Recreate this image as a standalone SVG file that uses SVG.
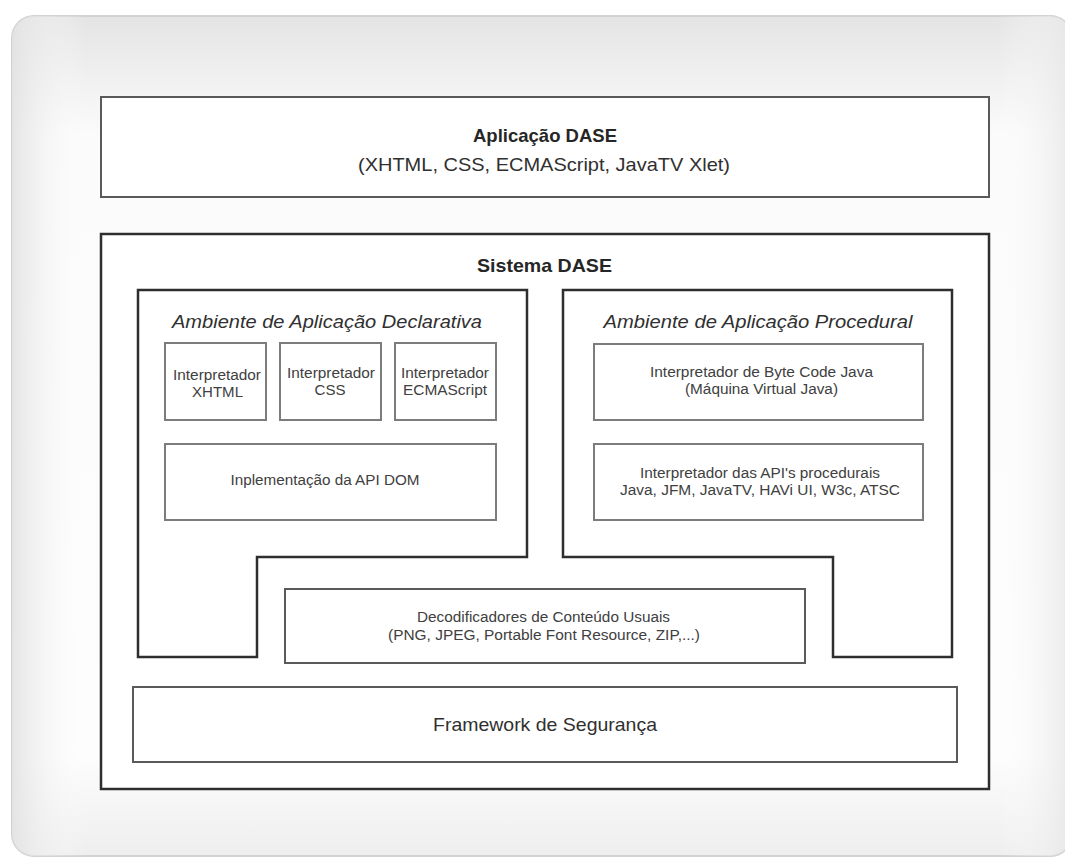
<svg xmlns="http://www.w3.org/2000/svg" width="1065" height="857" viewBox="0 0 1065 857">
  <defs>
    <linearGradient id="shadeTop" x1="0" y1="0" x2="0" y2="1">
      <stop offset="0" stop-color="#e4e4e4"/>
      <stop offset="0.14" stop-color="#fbfbfb"/>
      <stop offset="0.88" stop-color="#fdfdfd"/>
      <stop offset="1" stop-color="#eeeeee"/>
    </linearGradient>
    <linearGradient id="shadeSide" x1="0" y1="0" x2="1" y2="0">
      <stop offset="0" stop-color="#e2e2e2" stop-opacity="0.9"/>
      <stop offset="0.07" stop-color="#ffffff" stop-opacity="0"/>
      <stop offset="0.93" stop-color="#ffffff" stop-opacity="0"/>
      <stop offset="1" stop-color="#e6e6e6" stop-opacity="0.9"/>
    </linearGradient>
    <style>
      .box { fill: #ffffff; stroke: #5a5a5a; stroke-width: 2; }
      .thin { fill: #ffffff; stroke: #7c7c7c; stroke-width: 2; }
      .env { fill: #ffffff; stroke: #2e2e2e; stroke-width: 2.5; }
      .t { font-family: "Liberation Sans", Arial, sans-serif; fill: #303030; text-anchor: middle; }
      .s { font-size: 14px; fill: #404040; }
      .l { font-size: 18.5px; }
      .b { font-weight: bold; fill: #262626; }
      .i { font-style: italic; }
    </style>
  </defs>

  <rect width="1065" height="857" fill="#ffffff"/>

  <!-- outer panel -->
  <g id="panel">
    <rect x="12" y="16" width="1060" height="840" rx="22" fill="url(#shadeTop)" stroke="#d2d2d2" stroke-width="2"/>
    <rect x="12" y="16" width="1060" height="840" rx="22" fill="url(#shadeSide)"/>
  </g>

  <g id="aplicacao">
    <rect class="box" x="101" y="97" width="888" height="100"/>
    <text class="t l b" x="545" y="142" textLength="144" lengthAdjust="spacingAndGlyphs">Aplicação DASE</text>
    <text class="t l" x="544" y="171" textLength="372" lengthAdjust="spacingAndGlyphs">(XHTML, CSS, ECMAScript, JavaTV Xlet)</text>
  </g>

  <g id="sistema">
    <rect class="env" x="101" y="234" width="888" height="555"/>
    <text class="t l b" x="544.5" y="272" textLength="135" lengthAdjust="spacingAndGlyphs">Sistema DASE</text>
  </g>

  <g id="declarativa">
    <path class="env" d="M138 290 H527 V557 H257 V657 H138 Z"/>
    <text class="t l i" x="327" y="328" textLength="310" lengthAdjust="spacingAndGlyphs">Ambiente de Aplicação Declarativa</text>
  </g>

  <g id="procedural">
    <path class="env" d="M563 290 H952 V657 H833 V557 H563 Z"/>
    <text class="t l i" x="758" y="328" textLength="309" lengthAdjust="spacingAndGlyphs">Ambiente de Aplicação Procedural</text>
  </g>

  <g id="interp-xhtml">
    <rect class="thin" x="165" y="343" width="101" height="77"/>
    <text class="t s" x="217" y="380" textLength="88" lengthAdjust="spacingAndGlyphs">Interpretador</text>
    <text class="t s" x="217.5" y="397" textLength="51" lengthAdjust="spacingAndGlyphs">XHTML</text>
  </g>

  <g id="interp-css">
    <rect class="thin" x="280" y="343" width="101" height="77"/>
    <text class="t s" x="331" y="378" textLength="88" lengthAdjust="spacingAndGlyphs">Interpretador</text>
    <text class="t s" x="330" y="395" textLength="31" lengthAdjust="spacingAndGlyphs">CSS</text>
  </g>

  <g id="interp-ecma">
    <rect class="thin" x="395" y="343" width="101" height="77"/>
    <text class="t s" x="445" y="378" textLength="88" lengthAdjust="spacingAndGlyphs">Interpretador</text>
    <text class="t s" x="445" y="395" textLength="84" lengthAdjust="spacingAndGlyphs">ECMAScript</text>
  </g>

  <g id="api-dom">
    <rect class="thin" x="165" y="444" width="331" height="76"/>
    <text class="t s" x="325" y="485" textLength="189" lengthAdjust="spacingAndGlyphs">Inplementação da API DOM</text>
  </g>

  <g id="bytecode">
    <rect class="thin" x="594" y="344" width="329" height="76"/>
    <text class="t s" x="761.5" y="377" textLength="223" lengthAdjust="spacingAndGlyphs">Interpretador de Byte Code Java</text>
    <text class="t s" x="761.5" y="394" textLength="153" lengthAdjust="spacingAndGlyphs">(Máquina Virtual Java)</text>
  </g>

  <g id="api-procedurais">
    <rect class="thin" x="594" y="444" width="329" height="76"/>
    <text class="t s" x="760" y="478" textLength="240" lengthAdjust="spacingAndGlyphs">Interpretador das API's procedurais</text>
    <text class="t s" x="760" y="495" textLength="280" lengthAdjust="spacingAndGlyphs">Java, JFM, JavaTV, HAVi UI, W3c, ATSC</text>
  </g>

  <g id="decodificadores">
    <rect class="box" x="285" y="589" width="520" height="74"/>
    <text class="t s" x="543.5" y="622" textLength="253" lengthAdjust="spacingAndGlyphs">Decodificadores de Conteúdo Usuais</text>
    <text class="t s" x="544" y="640" textLength="312" lengthAdjust="spacingAndGlyphs">(PNG, JPEG, Portable Font Resource, ZIP,...)</text>
  </g>

  <g id="seguranca">
    <rect class="box" x="133" y="687" width="824" height="75"/>
    <text class="t l" x="545" y="731" textLength="224" lengthAdjust="spacingAndGlyphs">Framework de Segurança</text>
  </g>

  <g id="connectors"/>
</svg>
